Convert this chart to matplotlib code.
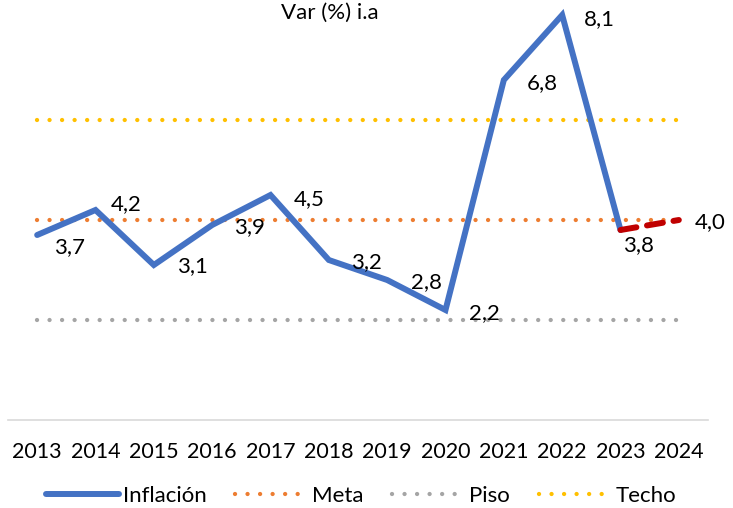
import matplotlib
matplotlib.use("Agg")
import matplotlib.pyplot as plt
from matplotlib.lines import Line2D

years = ["2013", "2014", "2015", "2016", "2017", "2018", "2019", "2020", "2021", "2022", "2023", "2024"]
inflacion = [3.7, 4.2, 3.1, 3.9, 4.5, 3.2, 2.8, 2.2, 6.8, 8.1, 3.8]
proyeccion = [3.8, 4.0]  # 2023 -> 2024
meta = [4.0] * 12
piso = [2.0] * 12
techo = [6.0] * 12
labels = ["3,7", "4,2", "3,1", "3,9", "4,5", "3,2", "2,8", "2,2", "6,8", "8,1", "3,8", "4,0"]
label_vals = inflacion + [proyeccion[1]]

plt.rcParams['font.family'] = ['Lato', 'DejaVu Sans']

W, H = 733, 508
fig = plt.figure(figsize=(W / 100, H / 100), dpi=100)
ax = fig.add_axes([8 / W, 1 - 420 / H, 700 / W, 410 / H])
x = list(range(len(years)))

blue = "#4472C4"; orange = "#ED7D31"; gray = "#A5A5A5"; yellow = "#FFC000"; red = "#C00000"
dot = (0, (0.01, 2.9))

ax.plot(x, techo, color=yellow, lw=3.1, linestyle=dot, dash_capstyle='round', clip_on=False)
ax.plot(x, piso, color=gray, lw=3.1, linestyle=dot, dash_capstyle='round', clip_on=False)
ax.plot(x, meta, color=orange, lw=3.1, linestyle=dot, dash_capstyle='round', clip_on=False)
ax.plot(x[:len(inflacion)], inflacion, color=blue, lw=4.3, solid_joinstyle='miter',
        solid_capstyle='round', clip_on=False)
ax.plot(x[10:12], proyeccion, color=red, lw=4.3, linestyle=(0, (2.7, 1.8)),
        dash_capstyle='round', clip_on=False)

# label offsets in pixels (dx, dy) relative to the data point
offs = [(17, -12), (15, 6), (23, -1), (22, -2), (23, -4), (22, -2), (24, -2), (24, -3),
        (23, -3), (22, -4), (3, -15), (16, -2)]
for xi, v, t, (dx, dy) in zip(x, label_vals, labels, offs):
    ax.annotate(t, (xi, v), xytext=(dx, dy), textcoords='offset pixels',
                ha='left', va='center', fontsize=16, color='#000000')

ax.set_xlim(-0.5, 11.5)
ax.set_ylim(0, 8.2)
ax.set_yticks([])
ax.set_xticks(x)
ax.set_xticklabels(years, fontsize=15.5)
ax.tick_params(axis='x', length=0, pad=16)
for s in ['top', 'left', 'right']:
    ax.spines[s].set_visible(False)
ax.spines['bottom'].set_color('#D9D9D9')
ax.spines['bottom'].set_linewidth(1.2)

fig.text(330 / W, 1 - 13 / H, "Var (%) i.a", ha='center', va='center', fontsize=16)

handles = [
    Line2D([], [], color=blue, lw=4.3, solid_capstyle='round'),
    Line2D([], [], color=orange, lw=3.1, linestyle=dot, dash_capstyle='round'),
    Line2D([], [], color=gray, lw=3.1, linestyle=dot, dash_capstyle='round'),
    Line2D([], [], color=yellow, lw=3.1, linestyle=dot, dash_capstyle='round'),
]
fig.legend(handles, ["Inflación", "Meta", "Piso", "Techo"], loc='center',
           bbox_to_anchor=(361 / W, 1 - 496 / H), ncol=4, frameon=False,
           fontsize=16, handlelength=3.3, handletextpad=0.15, columnspacing=1.3)

fig.savefig("out.png", dpi=100)
